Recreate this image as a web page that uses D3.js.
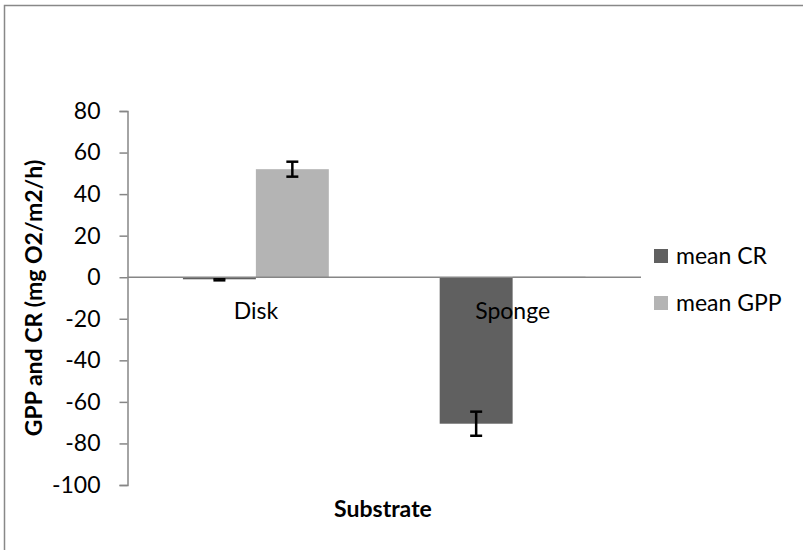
<!DOCTYPE html>
<html><head><meta charset="utf-8">
<script src="https://cdn.jsdelivr.net/npm/d3@7"></script>
<style>body{margin:0;background:#fff}svg{display:block;font-family:Lato,"Open Sans",sans-serif}</style>
</head><body><svg id="c" width="803" height="550"></svg>
<script>
const categories = ["Disk", "Sponge"];
const seriesNames = ["mean CR", "mean GPP"];
const meanCR = [-1, -70.5];
const meanGPP = [52, 0.3];
const errCR = [0.5, 5.8];
const errGPP = [3.6, 0];
const yTicks = [80, 60, 40, 20, 0, -20, -40, -60, -80, -100];
const colors = ["#606060", "#b4b4b4"];

const FS = 23;
const svg = d3.select("#c");
svg.append("rect").attr("x",4.5).attr("y",5.5).attr("width",1000).attr("height",800)
  .attr("fill","#fff").attr("stroke","#888").attr("stroke-width",1.5);

const pL = 127.5, pR = 641, pT = 111, pB = 485;
const y = d3.scaleLinear().domain([-100, 80]).range([pB, pT]);
const x0 = d3.scaleBand().domain(categories).range([pL, pR]);
const x1 = d3.scaleBand().domain(seriesNames).range([0, x0.bandwidth()]).paddingInner(0).paddingOuter(0.76);

const data = categories.map((c,i)=>({cat:c, vals:[
  {s:seriesNames[0], v:meanCR[i], e:errCR[i]},
  {s:seriesNames[1], v:meanGPP[i], e:errGPP[i]}]}));

const g = svg.append("g");
const grp = g.selectAll("g.cat").data(data).join("g").attr("transform",d=>`translate(${x0(d.cat)},0)`);
grp.selectAll("rect").data(d=>d.vals).join("rect")
  .attr("x",d=>x1(d.s)).attr("width",x1.bandwidth())
  .attr("y",d=>y(Math.max(0,d.v))).attr("height",d=>Math.abs(y(d.v)-y(0)))
  .attr("fill",(d,i)=>colors[i]);

// error bars
const cx = d=>x1(d.s)+x1.bandwidth()/2;
const eb = grp.selectAll("g.eb").data(d=>d.vals.filter(v=>v.e>0)).join("g");
eb.append("line").attr("x1",cx).attr("x2",cx)
  .attr("y1",d=>y(d.v+d.e)).attr("y2",d=>y(d.v-d.e)).attr("stroke","#000").attr("stroke-width",2.5);
[1,-1].forEach(sgn=>{
  eb.append("line").attr("x1",d=>cx(d)-6).attr("x2",d=>cx(d)+6)
    .attr("y1",d=>y(d.v+sgn*d.e)).attr("y2",d=>y(d.v+sgn*d.e)).attr("stroke","#000").attr("stroke-width",2.5);
});

// y axis
const ya = svg.append("g").attr("transform",`translate(${pL},0)`)
  .call(d3.axisLeft(y).tickValues(yTicks).tickFormat(d=>String(d)).tickSize(8).tickSizeOuter(8).tickPadding(19));
ya.select(".domain").attr("stroke","#868686").attr("stroke-width",1.5);
ya.selectAll(".tick line").attr("stroke","#868686").attr("stroke-width",1.5);
ya.selectAll(".tick text").attr("font-size",FS).attr("fill","#000").attr("font-family","Lato,sans-serif");

// zero line
svg.append("line").attr("x1",pL).attr("x2",pR).attr("y1",y(0)).attr("y2",y(0))
  .attr("stroke","#868686").attr("stroke-width",1.5);

// category labels
svg.selectAll("text.cat").data(categories).join("text")
  .attr("x",d=>x0(d)+x0.bandwidth()/2).attr("y",y(0)+42)
  .attr("text-anchor","middle").attr("font-size",FS).text(d=>d);

// axis titles
svg.append("text").attr("x",383).attr("y",517).attr("text-anchor","middle")
  .attr("font-size",FS).attr("font-weight","bold").text("Substrate");
svg.append("text").attr("transform",`translate(42,${(pT+pB)/2}) rotate(-90)`)
  .attr("text-anchor","middle").attr("font-size",FS).attr("font-weight","bold").text("GPP and CR (mg O2/m2/h)");

// legend
const lg = svg.selectAll("g.lg").data(seriesNames).join("g")
  .attr("transform",(d,i)=>`translate(654,${256+i*47})`);
lg.append("rect").attr("x",0).attr("y",-7).attr("width",14).attr("height",14).attr("fill",(d,i)=>colors[i]);
lg.append("text").attr("x",22).attr("y",8).attr("font-size",FS).text(d=>d);
</script></body></html>
